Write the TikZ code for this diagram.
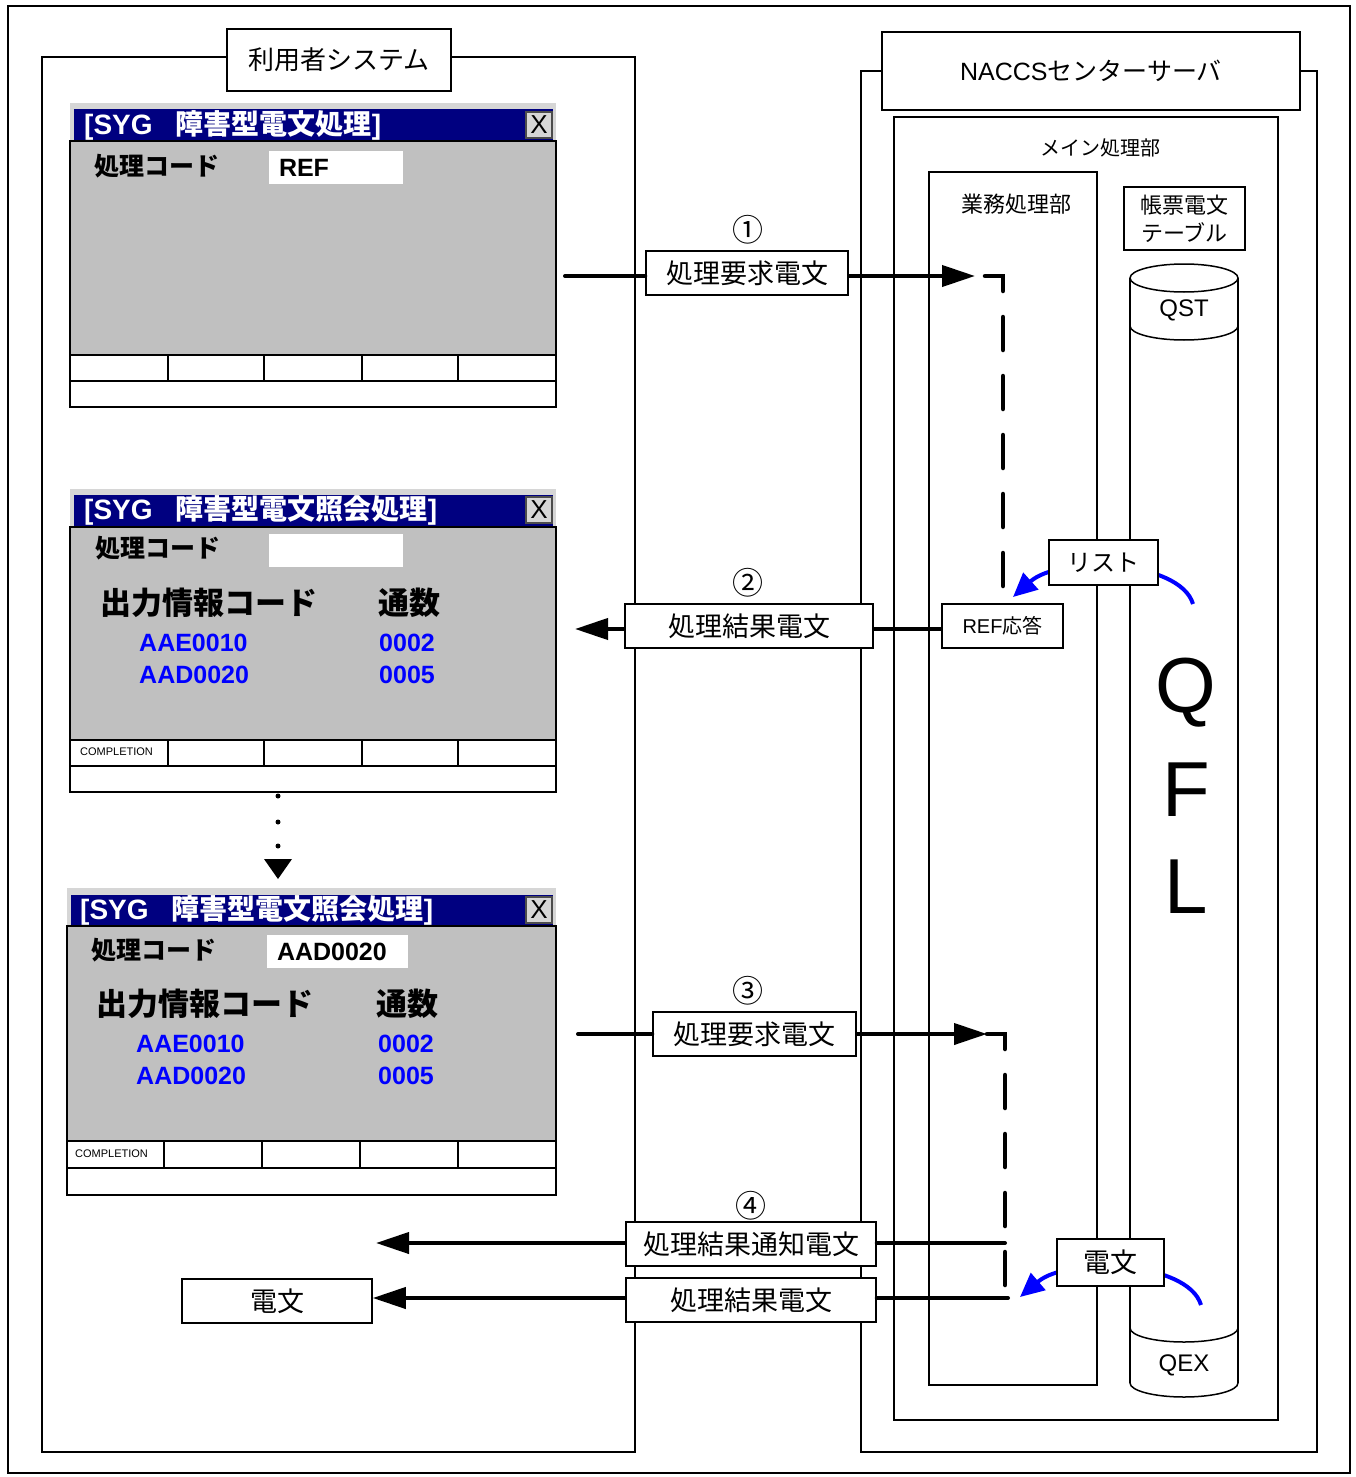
\documentclass[tikz,border=0pt]{standalone}
\usepackage{fontspec}
\setmainfont{Noto Sans CJK JP}
\newfontfamily\lat{Liberation Sans}
\usetikzlibrary{arrows.meta}
\definecolor{navy}{RGB}{0,0,128}
\definecolor{wgray}{RGB}{192,192,192}
\definecolor{wframe}{RGB}{214,214,214}
\definecolor{bblue}{RGB}{0,0,255}
\begin{document}
\begin{tikzpicture}[x=1pt,y=-1pt,
  thinbox/.style={draw=black, line width=1.5pt},
  lbl/.style={draw=black, line width=1.5pt, fill=white, inner sep=0pt},
  flow/.style={line width=4pt},
  flowarrow/.style={line width=4pt, -{Triangle[length=33pt,width=21pt]}},
  dashline/.style={line width=4.5pt, dash pattern=on 33pt off 26pt, line cap=round},
  bluearc/.style={draw=bblue, line width=4pt, -{Triangle[length=24pt,width=22pt]}},
  wline/.style={draw=black, line width=1.5pt},
  wtitle/.style={anchor=west, text=white, inner sep=0pt, font=\bfseries\fontsize{28}{30}\selectfont},
  closebtn/.style={draw=black!70, fill=wframe, line width=1.2pt, minimum width=26pt, minimum height=26pt, inner sep=0pt, font=\lat\fontsize{26}{28}\selectfont},
  wlabel/.style={anchor=west, inner sep=0pt, font=\bfseries\fontsize{25}{28}\selectfont},
  wbig/.style={anchor=west, inner sep=0pt, font=\bfseries\fontsize{31}{34}\selectfont},
  wval/.style={anchor=west, inner sep=0pt, text=bblue, font=\lat\bfseries\fontsize{25}{28}\selectfont},
  wfield/.style={fill=white, inner sep=0pt, inner xsep=10pt, minimum height=33pt, align=left, font=\lat\bfseries\fontsize{25}{28}\selectfont},
  wsmall/.style={anchor=west, inner sep=0pt, font=\lat\fontsize{11}{12}\selectfont},
  circ/.style={inner sep=0pt, font=\fontsize{31}{34}\selectfont},
  msg/.style={lbl, minimum height=44pt, font=\fontsize{27}{30}\selectfont},
]
\useasboundingbox (0,0) rectangle (1356,1477);
\fill[white] (0,0) rectangle (1356,1477);
% outer frame
\draw[thinbox] (8,6) rectangle (1350,1473);
% user system
\draw[thinbox] (42,57) rectangle (635,1452);
\node[lbl, minimum width=224pt, minimum height=62pt, font=\fontsize{26}{30}\selectfont] (usr) at (339,60) {利用者システム};
% server
\draw[thinbox] (861,71) rectangle (1317,1452);
\node[lbl, minimum width=418pt, minimum height=78pt, font=\fontsize{25}{30}\selectfont] (nac) at (1091,71) {{\lat NACCS}センターサーバ};
\draw[thinbox] (894,117) rectangle (1278,1420);
\node[font=\fontsize{20}{24}\selectfont] (mainlbl) at (1100,148) {メイン処理部};
\draw[thinbox] (929,172) rectangle (1097,1385);
\node[font=\fontsize{22}{26}\selectfont] (gyolbl) at (1016,204) {業務処理部};
\node[lbl, minimum width=121pt, minimum height=63pt, align=center, font=\fontsize{22}{28}\selectfont] (tbl) at (1184.5,218.5) {帳票電文\\テーブル};
% cylinder
\draw[line width=1.5pt] (1130,278) -- (1130,1383);
\draw[line width=1.5pt] (1238,278) -- (1238,1383);
\draw[line width=1.5pt, fill=white] (1184,278) ellipse [x radius=54, y radius=14];
\draw[line width=1.5pt] (1130,326) arc [start angle=180, end angle=0, x radius=54, y radius=14];
\draw[line width=1.5pt] (1130,1328) arc [start angle=180, end angle=0, x radius=54, y radius=14];
\draw[line width=1.5pt] (1130,1383) arc [start angle=180, end angle=0, x radius=54, y radius=14];
\node[font=\lat\fontsize{24}{26}\selectfont] (qst) at (1184,310) {QST};
\node[font=\lat\fontsize{24}{26}\selectfont] (qex) at (1184,1365) {QEX};
\node[font=\lat\fontsize{78}{80}\selectfont] (qq) at (1186,693) {Q};
\node[font=\lat\fontsize{78}{80}\selectfont] (qf) at (1186,790) {F};
\node[font=\lat\fontsize{78}{80}\selectfont] (ql) at (1186,887) {L};

% ---------- window 1
\fill[wframe] (70,103) rectangle (556,141);
\fill[navy] (74,109) rectangle (553,141);
\draw[wline, fill=wgray] (70,141) rectangle (556,355);
\draw[wline, fill=white] (70,355) rectangle (556,381);
\draw[wline, fill=white] (70,381) rectangle (556,407);
\foreach \x in {168,264,362,458} \draw[wline] (\x,355) -- (\x,381);
\node[wtitle] (w1t) at (84,125) {{\lat [SYG\ \ \ }障害型電文処理{\lat ]}};
\node[closebtn] (w1x) at (539,125) {X};
\node[wlabel] (w1c) at (94,166) {処理コード};
\node[wfield, minimum width=134pt, text width=114pt] (w1f) at (336,167.5) {REF};

% ---------- window 2
\fill[wframe] (70,489) rectangle (556,527);
\fill[navy] (74,495) rectangle (553,527);
\draw[wline, fill=wgray] (70,527) rectangle (556,740);
\draw[wline, fill=white] (70,740) rectangle (556,766);
\draw[wline, fill=white] (70,766) rectangle (556,792);
\foreach \x in {168,264,362,458} \draw[wline] (\x,740) -- (\x,766);
\node[wtitle] (w2t) at (84,510) {{\lat [SYG\ \ \ }障害型電文照会処理{\lat ]}};
\node[closebtn] (w2x) at (539,510) {X};
\node[wlabel] (w2c) at (95,548) {処理コード};
\node[wfield, minimum width=134pt, text width=114pt] (w2f) at (336,550.5) {};
\node[wbig] (w2h1) at (100,603) {出力情報コード};
\node[wbig] (w2h2) at (378,603) {通数};
\node[wval] (w2a) at (139,643) {AAE0010};
\node[wval] (w2b) at (139,675) {AAD0020};
\node[wval] (w2n1) at (379,643) {0002};
\node[wval] (w2n2) at (379,675) {0005};
\node[wsmall] (w2s) at (80,752) {COMPLETION};

% dots and triangle
\fill (278,796) circle (2.5);
\fill (278,822) circle (2.5);
\fill (278,846) circle (2.5);
\fill (264,859) -- (292,859) -- (278,879) -- cycle;

% ---------- window 3
\fill[wframe] (67,888) rectangle (556,926);
\fill[navy] (71,895) rectangle (553,926);
\draw[wline, fill=wgray] (67,926) rectangle (556,1141);
\draw[wline, fill=white] (67,1141) rectangle (556,1168);
\draw[wline, fill=white] (67,1168) rectangle (556,1195);
\foreach \x in {164,262,360,458} \draw[wline] (\x,1141) -- (\x,1168);
\node[wtitle] (w3t) at (80,910) {{\lat [SYG\ \ \ }障害型電文照会処理{\lat ]}};
\node[closebtn] (w3x) at (539,910) {X};
\node[wlabel] (w3c) at (91,950) {処理コード};
\node[wfield, minimum width=141pt, text width=121pt] (w3f) at (337.5,951.5) {AAD0020};
\node[wbig] (w3h1) at (96,1004) {出力情報コード};
\node[wbig] (w3h2) at (376,1004) {通数};
\node[wval] (w3a) at (136,1044) {AAE0010};
\node[wval] (w3b) at (136,1076) {AAD0020};
\node[wval] (w3n1) at (378,1044) {0002};
\node[wval] (w3n2) at (378,1076) {0005};
\node[wsmall] (w3s) at (75,1154) {COMPLETION};

% ---------- flow 1
\node[circ] (c1) at (748,230) {①};
\node[msg, minimum width=202pt] (m1) at (747,273) {処理要求電文};
\coordinate (s1) at (565,276);
\coordinate (e1) at (975,276);
\draw[flow, line cap=round] (s1) -- (s1 -| m1.west);
\draw[flowarrow] (s1 -| m1.east) -- (e1);
\coordinate (d1a) at (985,276);
\coordinate (d1b) at (1003,276);
\coordinate (d1c) at (1003,590);
\draw[dashline] (d1a) -- (d1b) -- (d1c);

% ---------- flow 2
\coordinate (la) at (1193,604);
\coordinate (lb) at (1013,597);
\draw[bluearc] (la) .. controls (1180,560) and (1060,555) .. (lb);
\node[msg, minimum width=109pt, minimum height=45pt, font=\fontsize{24}{28}\selectfont] (lst) at (1103.5,562.5) {リスト};
\node[circ] (c2) at (748,583) {②};
\node[msg, minimum width=248pt] (m2) at (749,626) {処理結果電文};
\node[msg, minimum width=121pt, font=\fontsize{20}{24}\selectfont] (ref) at (1002.5,626) {{\lat REF}応答};
\coordinate (y2) at (0,629);
\coordinate (t2) at (575,629);
\draw[flow] (ref.west |- y2) -- (m2.east |- y2);
\draw[flowarrow] (m2.west |- y2) -- (t2);

% ---------- flow 3
\node[circ] (c3) at (748,991) {③};
\node[msg, minimum width=203pt] (m3) at (754.5,1034) {処理要求電文};
\coordinate (s3) at (578,1034);
\coordinate (e3) at (987,1034);
\draw[flow, line cap=round] (s3) -- (m3.west);
\draw[flowarrow] (m3.east) -- (e3);
\coordinate (d3a) at (987,1034);
\coordinate (d3b) at (1005,1034);
\coordinate (d3c) at (1005,1297);
\draw[dashline] (d3a) -- (d3b) -- (d3c);

% ---------- flow 4
\coordinate (da) at (1201,1305);
\coordinate (db) at (1020,1297);
\draw[bluearc] (da) .. controls (1188,1261) and (1068,1256) .. (db);
\node[msg, minimum width=107pt, minimum height=47pt] (den) at (1110.5,1262.5) {電文};
\node[circ] (c4) at (751,1206) {④};
\node[msg, minimum width=250pt] (m4) at (751,1244) {処理結果通知電文};
\node[msg, minimum width=250pt] (m5) at (751,1300) {処理結果電文};
\node[msg, minimum width=190pt] (den2) at (277,1301) {電文};
\coordinate (y4) at (0,1243);
\coordinate (y5) at (0,1298);
\coordinate (f4) at (1005,1243);
\coordinate (f5) at (1008,1298);
\coordinate (t4) at (376,1243);
\draw[flow, line cap=round] (f4) -- (m4.east |- y4);
\draw[flowarrow] (m4.west |- y4) -- (t4);
\draw[flow, line cap=round] (f5) -- (m5.east |- y5);
\draw[flowarrow] (m5.west |- y5) -- (den2.east |- y5);
\end{tikzpicture}
\end{document}
